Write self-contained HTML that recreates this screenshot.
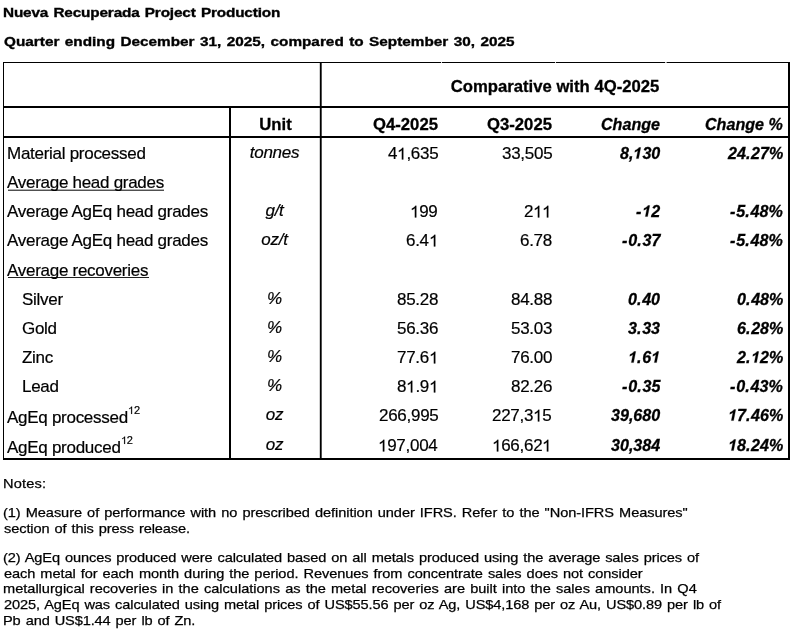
<!DOCTYPE html>
<html><head><meta charset="utf-8">
<style>
html,body{margin:0;padding:0;background:#fff;}
body{width:803px;height:633px;position:relative;overflow:hidden;color:#000;font-family:"Liberation Sans",sans-serif;}
.a{position:absolute;white-space:nowrap;line-height:1;will-change:transform;}
.ln{position:absolute;background:#000;}
.t{font-size:17px;letter-spacing:-0.28px;-webkit-text-stroke:0.2px #000;}
.b{font-weight:bold;font-size:16.7px;letter-spacing:0px;-webkit-text-stroke:0.3px #000;}
.i{font-style:italic;}
.bi{font-size:16.1px;letter-spacing:0px;}
.r{text-align:right;}
.c{text-align:center;}
.v{font-size:13.5px;transform-origin:0 0;-webkit-text-stroke:0.25px #000;word-spacing:1.0px;}
.vb{font-weight:bold;-webkit-text-stroke:0.35px #000;font-size:13.2px;}
.s{font-size:11px;position:relative;top:-9.3px;margin-left:0px;letter-spacing:0;}
.o1{position:relative;color:transparent;-webkit-text-stroke-color:transparent;}
.o1 svg{position:absolute;left:0;top:0;width:0.5562em;height:1.1172em;overflow:visible;fill:#000;stroke:#000;}
.ul{position:absolute;height:2px;background:linear-gradient(#b0b0b0 50%,#606060 50%);}
</style></head><body>
<div class="a v vb" style="left:3.30px;top:6.00px;transform:scaleX(1.1600);letter-spacing:-0.1268px;">Nueva Recuperada Project Production</div>
<div class="a v vb" style="left:4.00px;top:35.00px;transform:scaleX(1.1600);letter-spacing:0.0137px;">Quarter ending December 31, 2025, compared to September 30, 2025</div>
<div class="a v" style="left:3.30px;top:477.00px;transform:scaleX(1.0800);letter-spacing:0.1852px;">Notes:</div>
<div class="a v" style="left:3.30px;top:506.00px;transform:scaleX(1.0800);letter-spacing:-0.0556px;">(1) Measure of performance with no prescribed definition under IFRS. Refer to the &quot;Non-IFRS Measures&quot;</div>
<div class="a v" style="left:4.00px;top:522.00px;transform:scaleX(1.0800);letter-spacing:-0.0958px;">section of this press release.</div>
<div class="a v" style="left:3.30px;top:551.00px;transform:scaleX(1.0800);letter-spacing:-0.0999px;">(2) AgEq ounces produced were calculated based on all metals produced using the average sales prices of</div>
<div class="a v" style="left:4.00px;top:567.00px;transform:scaleX(1.0800);letter-spacing:-0.0697px;">each metal for each month during the period. Revenues from concentrate sales does not consider</div>
<div class="a v" style="left:3.30px;top:582.00px;transform:scaleX(1.0800);letter-spacing:-0.0087px;">metallurgical recoveries in the calculations as the metal recoveries are built into the sales amounts. In Q4</div>
<div class="a v" style="left:4.00px;top:598.00px;transform:scaleX(1.0800);letter-spacing:-0.0979px;">2025, AgEq was calculated using metal prices of US$55.56 per oz Ag, US$4,168 per oz Au, US$0.89 per lb of</div>
<div class="a v" style="left:3.30px;top:614.00px;transform:scaleX(1.0800);letter-spacing:-0.1029px;">Pb and US$1.44 per lb of Zn.</div>
<div class="ln" style="left:321px;top:63px;width:1px;height:396px;background:#505050;"></div>
<div class="ln" style="left:319px;top:63px;width:1px;height:396px;background:#d0d0d0;"></div>
<div class="ln" style="left:3px;top:62px;width:787px;height:1px;background:#000;"></div>
<div class="ln" style="left:3px;top:62px;width:1px;height:398px;background:#000;"></div>
<div class="ln" style="left:788px;top:62px;width:2px;height:398px;background:#000;"></div>
<div class="ln" style="left:3px;top:458px;width:787px;height:2px;background:#000;"></div>
<div class="ln" style="left:3px;top:106px;width:787px;height:2px;background:#000;"></div>
<div class="ln" style="left:3px;top:136px;width:787px;height:2px;background:#000;"></div>
<div class="ln" style="left:229px;top:106px;width:2px;height:354px;background:#000;"></div>
<div class="ln" style="left:320px;top:62px;width:1px;height:398px;background:#000;"></div>
<div class="ln" style="left:441px;top:62px;width:1px;height:1px;background:#d8d8d8;"></div>
<div class="ln" style="left:555px;top:62px;width:1px;height:1px;background:#d8d8d8;"></div>
<div class="ln" style="left:665px;top:62px;width:1px;height:1px;background:#d0d0d0;"></div>
<div class="ln" style="left:666px;top:62px;width:1px;height:1px;background:#909090;"></div>
<div class="a b c" style="left:322px;width:466px;top:79.00px;">Comparative with 4Q-2025</div>
<div class="a b c" style="left:231px;width:89px;top:117.00px;">Unit</div>
<div class="a b r" style="right:365px;top:117.00px;">Q4-2025</div>
<div class="a b r" style="right:251px;top:117.00px;">Q3-2025</div>
<div class="a b i bi r" style="right:143px;top:116.00px;">Change</div>
<div class="a b i bi r" style="right:20px;top:116.00px;">Change %</div>
<div class="a t" style="left:7px;top:145.00px;">Material processed</div>
<div class="a t i c" style="left:229.80px;width:89px;top:144.00px;">tonnes</div>
<div class="a t r" style="right:365px;top:145.00px;">4<span class="o1">1<svg viewBox="0 -1854 1139 2288"><path d="M763 0L583 0L583-1098Q518-1038 412-979Q307-920 223-890L223-1057Q374-1125 487-1221Q600-1318 647-1409L763-1409Z" stroke-width="24"/></svg></span>,635</div>
<div class="a t r" style="right:251px;top:145.00px;">33,505</div>
<div class="a b i bi r" style="right:143px;top:145.00px;">8,<span class="o1">1<svg viewBox="0 -1854 1139 2288"><path d="M708 0L427 0L626-1018Q444-879 223-813L270-1058Q387-1093 535-1190Q683-1287 755-1409L983-1409Z" stroke-width="38"/></svg></span>30</div>
<div class="a b i bi r" style="right:20px;top:145.00px;">24<span style="letter-spacing:0.7px">.</span>27%</div>
<div class="ul" style="left:7.50px;width:156.00px;top:189.00px;height:2px;background:linear-gradient(#b0b0b0 50%,#505050 50%);"></div>
<div class="a t" style="left:7px;top:174.00px;">Average head grades</div>
<div class="a t" style="left:7px;top:203.00px;">Average AgEq head grades</div>
<div class="a t i c" style="left:229.80px;width:89px;top:202.00px;">g/t</div>
<div class="a t r" style="right:365px;top:203.00px;"><span class="o1">1<svg viewBox="0 -1854 1139 2288"><path d="M763 0L583 0L583-1098Q518-1038 412-979Q307-920 223-890L223-1057Q374-1125 487-1221Q600-1318 647-1409L763-1409Z" stroke-width="24"/></svg></span>99</div>
<div class="a t r" style="right:251px;top:203.00px;">2<span class="o1">1<svg viewBox="0 -1854 1139 2288"><path d="M763 0L583 0L583-1098Q518-1038 412-979Q307-920 223-890L223-1057Q374-1125 487-1221Q600-1318 647-1409L763-1409Z" stroke-width="24"/></svg></span><span class="o1">1<svg viewBox="0 -1854 1139 2288"><path d="M763 0L583 0L583-1098Q518-1038 412-979Q307-920 223-890L223-1057Q374-1125 487-1221Q600-1318 647-1409L763-1409Z" stroke-width="24"/></svg></span></div>
<div class="a b i bi r" style="right:143px;top:203.00px;"><span style="letter-spacing:1.0px">-</span><span class="o1">1<svg viewBox="0 -1854 1139 2288"><path d="M708 0L427 0L626-1018Q444-879 223-813L270-1058Q387-1093 535-1190Q683-1287 755-1409L983-1409Z" stroke-width="38"/></svg></span>2</div>
<div class="a b i bi r" style="right:20px;top:203.00px;"><span style="letter-spacing:1.0px">-</span>5<span style="letter-spacing:0.7px">.</span>48%</div>
<div class="a t" style="left:7px;top:232.00px;">Average AgEq head grades</div>
<div class="a t i c" style="left:229.80px;width:89px;top:231.00px;">oz/t</div>
<div class="a t r" style="right:365px;top:232.00px;">6.4<span class="o1">1<svg viewBox="0 -1854 1139 2288"><path d="M763 0L583 0L583-1098Q518-1038 412-979Q307-920 223-890L223-1057Q374-1125 487-1221Q600-1318 647-1409L763-1409Z" stroke-width="24"/></svg></span></div>
<div class="a t r" style="right:251px;top:232.00px;">6.78</div>
<div class="a b i bi r" style="right:143px;top:232.00px;"><span style="letter-spacing:1.0px">-</span>0<span style="letter-spacing:0.7px">.</span>37</div>
<div class="a b i bi r" style="right:20px;top:232.00px;"><span style="letter-spacing:1.0px">-</span>5<span style="letter-spacing:0.7px">.</span>48%</div>
<div class="ul" style="left:7.50px;width:141.50px;top:277.00px;height:1px;background:linear-gradient(#202020 50%,#202020 50%);"></div>
<div class="a t" style="left:7px;top:262.00px;">Average recoveries</div>
<div class="a t" style="left:22px;top:291.00px;">Silver</div>
<div class="a t i c" style="left:229.80px;width:89px;top:290.00px;">%</div>
<div class="a t r" style="right:365px;top:291.00px;">85.28</div>
<div class="a t r" style="right:251px;top:291.00px;">84.88</div>
<div class="a b i bi r" style="right:143px;top:291.00px;">0<span style="letter-spacing:0.7px">.</span>40</div>
<div class="a b i bi r" style="right:20px;top:291.00px;">0<span style="letter-spacing:0.7px">.</span>48%</div>
<div class="a t" style="left:22px;top:320.00px;">Gold</div>
<div class="a t i c" style="left:229.80px;width:89px;top:319.00px;">%</div>
<div class="a t r" style="right:365px;top:320.00px;">56.36</div>
<div class="a t r" style="right:251px;top:320.00px;">53.03</div>
<div class="a b i bi r" style="right:143px;top:320.00px;">3<span style="letter-spacing:0.7px">.</span>33</div>
<div class="a b i bi r" style="right:20px;top:320.00px;">6<span style="letter-spacing:0.7px">.</span>28%</div>
<div class="a t" style="left:22px;top:349.00px;">Zinc</div>
<div class="a t i c" style="left:229.80px;width:89px;top:348.00px;">%</div>
<div class="a t r" style="right:365px;top:349.00px;">77.6<span class="o1">1<svg viewBox="0 -1854 1139 2288"><path d="M763 0L583 0L583-1098Q518-1038 412-979Q307-920 223-890L223-1057Q374-1125 487-1221Q600-1318 647-1409L763-1409Z" stroke-width="24"/></svg></span></div>
<div class="a t r" style="right:251px;top:349.00px;">76.00</div>
<div class="a b i bi r" style="right:143px;top:349.00px;"><span class="o1">1<svg viewBox="0 -1854 1139 2288"><path d="M708 0L427 0L626-1018Q444-879 223-813L270-1058Q387-1093 535-1190Q683-1287 755-1409L983-1409Z" stroke-width="38"/></svg></span><span style="letter-spacing:0.7px">.</span>6<span class="o1">1<svg viewBox="0 -1854 1139 2288"><path d="M708 0L427 0L626-1018Q444-879 223-813L270-1058Q387-1093 535-1190Q683-1287 755-1409L983-1409Z" stroke-width="38"/></svg></span></div>
<div class="a b i bi r" style="right:20px;top:349.00px;">2<span style="letter-spacing:0.7px">.</span><span class="o1">1<svg viewBox="0 -1854 1139 2288"><path d="M708 0L427 0L626-1018Q444-879 223-813L270-1058Q387-1093 535-1190Q683-1287 755-1409L983-1409Z" stroke-width="38"/></svg></span>2%</div>
<div class="a t" style="left:22px;top:378.00px;">Lead</div>
<div class="a t i c" style="left:229.80px;width:89px;top:377.00px;">%</div>
<div class="a t r" style="right:365px;top:378.00px;">8<span class="o1">1<svg viewBox="0 -1854 1139 2288"><path d="M763 0L583 0L583-1098Q518-1038 412-979Q307-920 223-890L223-1057Q374-1125 487-1221Q600-1318 647-1409L763-1409Z" stroke-width="24"/></svg></span>.9<span class="o1">1<svg viewBox="0 -1854 1139 2288"><path d="M763 0L583 0L583-1098Q518-1038 412-979Q307-920 223-890L223-1057Q374-1125 487-1221Q600-1318 647-1409L763-1409Z" stroke-width="24"/></svg></span></div>
<div class="a t r" style="right:251px;top:378.00px;">82.26</div>
<div class="a b i bi r" style="right:143px;top:378.00px;"><span style="letter-spacing:1.0px">-</span>0<span style="letter-spacing:0.7px">.</span>35</div>
<div class="a b i bi r" style="right:20px;top:378.00px;"><span style="letter-spacing:1.0px">-</span>0<span style="letter-spacing:0.7px">.</span>43%</div>
<div class="a t" style="left:7px;top:409.00px;">AgEq processed<span class="s"><span class="o1">1<svg viewBox="0 -1854 1139 2288"><path d="M763 0L583 0L583-1098Q518-1038 412-979Q307-920 223-890L223-1057Q374-1125 487-1221Q600-1318 647-1409L763-1409Z" stroke-width="24"/></svg></span>2</span></div>
<div class="a t i c" style="left:229.80px;width:89px;top:406.00px;">oz</div>
<div class="a t r" style="right:365px;top:407.00px;">266,995</div>
<div class="a t r" style="right:251px;top:407.00px;">227,3<span class="o1">1<svg viewBox="0 -1854 1139 2288"><path d="M763 0L583 0L583-1098Q518-1038 412-979Q307-920 223-890L223-1057Q374-1125 487-1221Q600-1318 647-1409L763-1409Z" stroke-width="24"/></svg></span>5</div>
<div class="a b i bi r" style="right:143px;top:407.00px;">39,680</div>
<div class="a b i bi r" style="right:20px;top:407.00px;"><span class="o1">1<svg viewBox="0 -1854 1139 2288"><path d="M708 0L427 0L626-1018Q444-879 223-813L270-1058Q387-1093 535-1190Q683-1287 755-1409L983-1409Z" stroke-width="38"/></svg></span>7<span style="letter-spacing:0.7px">.</span>46%</div>
<div class="a t" style="left:7px;top:439.00px;">AgEq produced<span class="s"><span class="o1">1<svg viewBox="0 -1854 1139 2288"><path d="M763 0L583 0L583-1098Q518-1038 412-979Q307-920 223-890L223-1057Q374-1125 487-1221Q600-1318 647-1409L763-1409Z" stroke-width="24"/></svg></span>2</span></div>
<div class="a t i c" style="left:229.80px;width:89px;top:436.00px;">oz</div>
<div class="a t r" style="right:365px;top:437.00px;"><span class="o1">1<svg viewBox="0 -1854 1139 2288"><path d="M763 0L583 0L583-1098Q518-1038 412-979Q307-920 223-890L223-1057Q374-1125 487-1221Q600-1318 647-1409L763-1409Z" stroke-width="24"/></svg></span>97,004</div>
<div class="a t r" style="right:251px;top:437.00px;"><span class="o1">1<svg viewBox="0 -1854 1139 2288"><path d="M763 0L583 0L583-1098Q518-1038 412-979Q307-920 223-890L223-1057Q374-1125 487-1221Q600-1318 647-1409L763-1409Z" stroke-width="24"/></svg></span>66,62<span class="o1">1<svg viewBox="0 -1854 1139 2288"><path d="M763 0L583 0L583-1098Q518-1038 412-979Q307-920 223-890L223-1057Q374-1125 487-1221Q600-1318 647-1409L763-1409Z" stroke-width="24"/></svg></span></div>
<div class="a b i bi r" style="right:143px;top:437.00px;">30,384</div>
<div class="a b i bi r" style="right:20px;top:437.00px;"><span class="o1">1<svg viewBox="0 -1854 1139 2288"><path d="M708 0L427 0L626-1018Q444-879 223-813L270-1058Q387-1093 535-1190Q683-1287 755-1409L983-1409Z" stroke-width="38"/></svg></span>8<span style="letter-spacing:0.7px">.</span>24%</div>
</body></html>
